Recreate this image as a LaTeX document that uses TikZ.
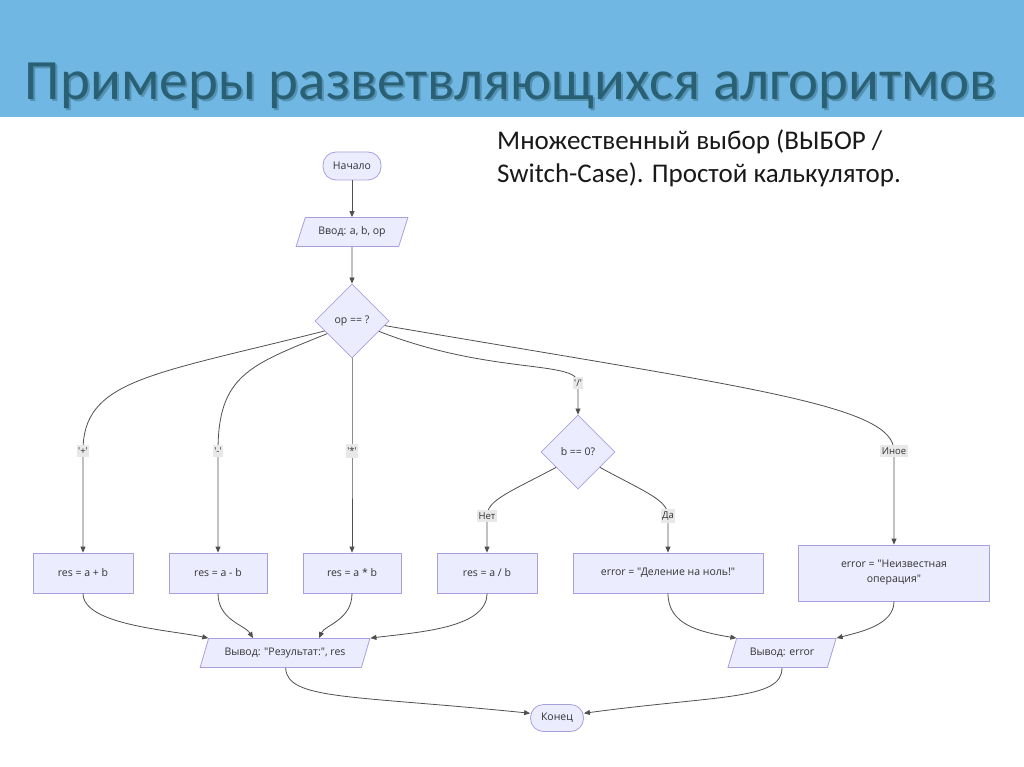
\documentclass[tikz,border=0pt]{standalone}
\usepackage{fontspec}
\setmainfont{Carlito}
\newfontfamily\chartfont{Open Sans}
\usetikzlibrary{shapes.geometric,arrows.meta}
\definecolor{band}{RGB}{112,184,227}
\definecolor{titlecol}{RGB}{42,96,116}
\definecolor{shadowcol}{RGB}{25,55,70}
\definecolor{nodefill}{RGB}{236,236,255}
\definecolor{nodeline}{RGB}{168,160,222}
\definecolor{edgecol}{RGB}{80,80,80}
\definecolor{lblfill}{RGB}{232,232,232}
\definecolor{charttext}{RGB}{51,51,51}
\tikzset{
  chart/.style={draw=nodeline, fill=nodefill, line width=0.8pt, text=charttext,
    font=\chartfont\fontsize{10.5}{13}\selectfont},
  procbox/.style={chart, rectangle, minimum height=40pt, inner sep=3pt},
  termbox/.style={chart, rectangle, rounded corners=13pt, minimum height=28pt},
  decbox/.style={chart, diamond, minimum width=74pt, minimum height=74pt, inner sep=0pt},
  iobox/.style={chart, trapezium, trapezium left angle=67, trapezium right angle=113,
    trapezium stretches=true, minimum height=29pt},
  lbl/.style={fill=lblfill, inner xsep=1.5pt, inner ysep=3pt, text=charttext,
    font=\chartfont\fontsize{9.5}{11}\selectfont},
  flow/.style={draw=edgecol, line width=0.8pt, -{Triangle[length=6pt,width=5pt]}},
  titletext/.style={font=\fontsize{57}{60}\selectfont, anchor=base, inner sep=0pt},
}
\begin{document}
\begin{tikzpicture}[x=1pt,y=-1pt]
\useasboundingbox (0,0) rectangle (1024,767);
\fill[white] (0,0) rectangle (1024,767);
\fill[band] (0,0) rectangle (1024,117);
\node[titletext, text=shadowcol, opacity=0.3] (titleshadow) at (513,102) {Примеры разветвляющихся алгоритмов};
\node[titletext, text=titlecol] (title) at (511,100) {Примеры разветвляющихся алгоритмов};
\node[anchor=north west, inner sep=0pt, align=left, text=black!90,
  font=\fontsize{27}{33}\selectfont] (subtitle) at (497,130)
  {Множественный выбор (ВЫБОР /\\Switch-Case). Простой калькулятор.};

% nodes
\node[termbox, minimum width=58pt] (start) at (352,166) {Начало};
\node[iobox, minimum width=112pt] (in) at (352,232) {Ввод: a, b, op};
\node[decbox] (op) at (352,321) {op == ?};
\node[decbox] (bz) at (578,452) {b == 0?};
\node[procbox, minimum width=100pt] (add) at (83,573) {res = a + b};
\node[procbox, minimum width=98pt] (sub) at (218,573) {res = a - b};
\node[procbox, minimum width=98pt] (mul) at (352,573) {res = a * b};
\node[procbox, minimum width=100pt] (dv) at (487,573) {res = a / b};
\node[procbox, minimum width=190pt] (dz) at (668,573) {error = "Деление на ноль!"};
\node[procbox, minimum width=191pt, minimum height=56pt, align=center] (unk) at (894,573)
  {error = "Неизвестная\\[2pt]операция"};
\node[iobox, minimum width=170pt] (outr) at (285,653) {Вывод: "Результат:", res};
\node[iobox, minimum width=109pt] (oute) at (782,653) {Вывод: error};
\node[termbox, minimum width=53pt, minimum height=27pt] (end) at (557,718) {Конец};

% connectors
\draw[flow] (start) -- (in);
\draw[flow] (in) -- (op);
\draw[flow] (op.200) .. controls (150,375) and (83,380) .. (83,451) node[lbl] (lplus) {'+'} -- (add);
\draw[flow] (op.207) .. controls (250,365) and (218,375) .. (218,451) node[lbl] (lminus) {'-'} -- (sub);
\draw[flow] (op) -- (352,451) node[lbl] (lmul) {'*'} -- (mul);
\draw[flow] (op.-21) .. controls (490,375) and (578,360) .. (578,383) node[lbl] (ldiv) {'/'} -- (bz);
\draw[flow] (op.-8) .. controls (750,388) and (894,405) .. (894,451) node[lbl] (lother) {Иное} -- (unk);
\draw[flow] (bz.215) .. controls (510,492) and (487,500) .. (487,516) node[lbl] (lno) {Нет} -- (dv);
\draw[flow] (bz.-35) .. controls (645,492) and (668,500) .. (668,516) node[lbl] (lyes) {Да} -- (dz);

\draw[flow] (add) .. controls (83,625) and (170,630) .. (outr.top left corner);
\draw[flow] (sub) .. controls (218,620) and (245,625) .. ([xshift=-32pt]outr.north);
\draw[flow] (mul) .. controls (352,620) and (325,625) .. ([xshift=34pt]outr.north);
\draw[flow] (dv) .. controls (487,628) and (420,632) .. (outr.top right corner);
\draw[flow] (dz) .. controls (668,625) and (700,632) .. (oute.top left corner);
\draw[flow] (unk) .. controls (894,625) and (860,632) .. (oute.top right corner);
\draw[flow] (outr) .. controls (287,700) and (350,695) .. (end.170);
\draw[flow] (oute) .. controls (782,700) and (720,695) .. (end.10);
\end{tikzpicture}
\end{document}
